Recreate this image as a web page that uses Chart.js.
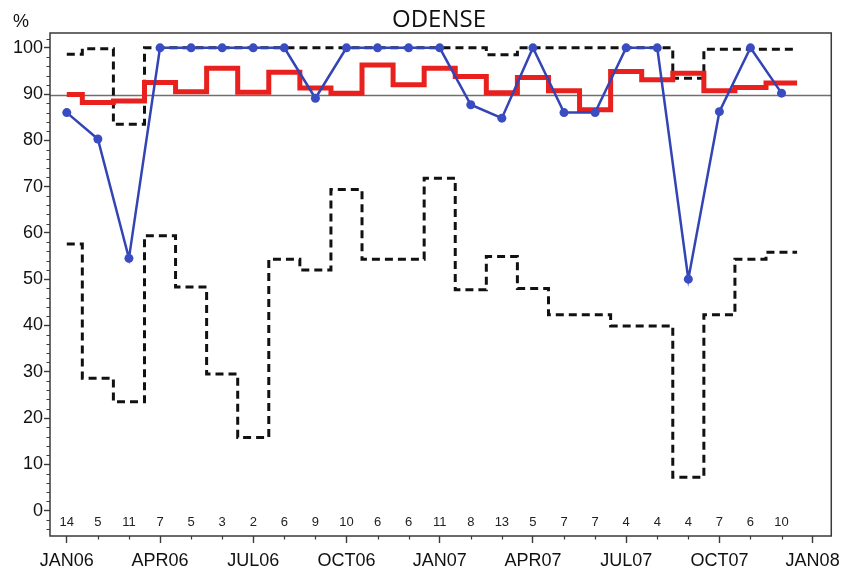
<!DOCTYPE html>
<html>
<head>
<meta charset="utf-8">
<script src="https://cdn.jsdelivr.net/npm/chart.js@4/dist/chart.umd.min.js"></script>
<style>
  html, body { margin: 0; padding: 0; background: #fff; }
</style>
</head>
<body>
<canvas id="chart" width="847" height="573"></canvas>
<script>
// one value per month, JAN06 .. DEC07
let tickLabels = ['JAN06', 'APR06', 'JUL06', 'OCT06', 'JAN07', 'APR07', 'JUL07', 'OCT07', 'JAN08'];
let counts = [14, 5, 11, 7, 5, 3, 2, 6, 9, 10, 6, 6, 11, 8, 13, 5, 7, 7, 4, 4, 4, 7, 6, 10];
let observed = [86.0, 80.3, 54.5, 100, 100, 100, 100, 100, 89.1, 100, 100, 100,
                100, 87.7, 84.8, 100, 86.0, 86.0, 100, 100, 50.0, 86.2, 100, 90.2];
let expected = [89.9, 88.2, 88.5, 92.5, 90.5, 95.6, 90.4, 94.7, 91.3, 90.2, 96.3, 92.0,
                95.6, 93.8, 90.3, 93.6, 90.7, 86.6, 94.9, 93.1, 94.5, 90.7, 91.4, 92.4];
let upperLimit = [98.6, 99.8, 83.5, 100, 100, 100, 100, 100, 100, 100, 100, 100,
                  100, 100, 98.5, 100, 100, 100, 100, 100, 93.4, 99.7, 99.7, 99.7];
let lowerLimit = [57.6, 28.6, 23.5, 59.4, 48.3, 29.5, 15.8, 54.3, 52.0, 69.4, 54.3, 54.3,
                  71.8, 47.7, 54.9, 48.0, 42.3, 42.3, 39.9, 39.9, 7.2, 42.3, 54.3, 55.8];
let refLevel = 89.7;

let fontFam = '"Liberation Sans", Arial, sans-serif';

// step lines: level i runs from month i-0.5 to i+0.5 (first one starts at month 0)
function stepData(values) {
    let pts = values.map(function (v, i) {
        return { x: i === 0 ? 0 : i - 0.5, y: v };
    });
    pts.push({ x: values.length - 0.5, y: values[values.length - 1] });
    return pts;
}

let extras = {
    id: 'extras',
    beforeDatasetsDraw: function (chart) {
        let ctx = chart.ctx, a = chart.chartArea;
        let y = chart.scales.y.getPixelForValue(refLevel);
        ctx.save();
        ctx.strokeStyle = '#6f6f6f';
        ctx.lineWidth = 1.6;
        ctx.beginPath();
        ctx.moveTo(a.left, y);
        ctx.lineTo(a.right, y);
        ctx.stroke();
        ctx.restore();
    },
    afterDraw: function (chart) {
        let ctx = chart.ctx, a = chart.chartArea;
        let xs = chart.scales.x, ys = chart.scales.y;
        ctx.save();
        // frame
        ctx.strokeStyle = '#3a3a3a';
        ctx.lineWidth = 1.5;
        ctx.strokeRect(a.left, a.top, a.right - a.left, a.bottom - a.top);

        // minor ticks
        ctx.lineWidth = 1.2;
        ctx.beginPath();
        for (let v = -4; v <= 102; v += 2) {
            if (v % 10 === 0) continue;
            let py = Math.round(ys.getPixelForValue(v)) + 0.5;
            ctx.moveTo(a.left - 3.5, py);
            ctx.lineTo(a.left, py);
        }
        for (let m = 0; m <= 24; m++) {
            if (m % 3 === 0) continue;
            let px = Math.round(xs.getPixelForValue(m)) + 0.5;
            ctx.moveTo(px, a.bottom);
            ctx.lineTo(px, a.bottom + 3.5);
        }
        ctx.stroke();

        // number of cases per month
        ctx.fillStyle = '#222';
        ctx.font = '13px ' + fontFam;
        ctx.textAlign = 'center';
        ctx.textBaseline = 'middle';
        counts.forEach(function (c, i) {
            ctx.fillText(String(c), xs.getPixelForValue(i), ys.getPixelForValue(-2.6));
        });

        // title and unit
        ctx.fillStyle = '#111';
        ctx.textBaseline = 'alphabetic';
        ctx.font = '24px "Open Sans", "Noto Sans", sans-serif';
        ctx.fillText('ODENSE', 439, 27);
        ctx.font = '18px ' + fontFam;
        ctx.fillText('%', 21, 27);
        ctx.restore();
    }
};

let ctx = document.getElementById('chart').getContext('2d');
let odenseChart = new Chart(ctx, {
    type: 'line',
    data: {
        datasets: [{
            label: 'observed',
            data: observed.map(function (v, i) { return { x: i, y: v }; }),
            borderColor: '#3344b4',
            backgroundColor: '#3a4cc2',
            borderWidth: 2.5,
            pointRadius: 4.5,
            pointBorderWidth: 0,
            tension: 0,
            order: 1
        }, {
            label: 'expected',
            data: stepData(expected),
            stepped: 'before',
            borderColor: '#e8201e',
            borderWidth: 5,
            pointRadius: 0,
            order: 2
        }, {
            label: 'upper',
            data: stepData(upperLimit),
            stepped: 'before',
            borderColor: '#111',
            borderWidth: 3,
            borderDash: [8, 5],
            pointRadius: 0,
            order: 3
        }, {
            label: 'lower',
            data: stepData(lowerLimit),
            stepped: 'before',
            borderColor: '#111',
            borderWidth: 3,
            borderDash: [8, 5],
            pointRadius: 0,
            order: 4
        }]
    },
    options: {
        responsive: false,
        animation: false,
        layout: { padding: { top: 33, right: 15, left: 0, bottom: 0 } },
        plugins: { legend: { display: false }, tooltip: { enabled: false } },
        scales: {
            x: {
                type: 'linear',
                min: -0.54,
                max: 24.6,
                afterBuildTicks: function (s) {
                    s.ticks = [];
                    for (let m = 0; m <= 24; m += 3) s.ticks.push({ value: m });
                },
                afterFit: function (s) { s.height = 37; },
                ticks: {
                    autoSkip: false,
                    maxRotation: 0,
                    padding: 7,
                    color: '#111',
                    font: { family: fontFam, size: 18 },
                    callback: function (v) { return tickLabels[v / 3]; }
                },
                grid: { drawOnChartArea: false, tickLength: 7, tickWidth: 1.4, tickColor: '#3a3a3a' },
                border: { display: false }
            },
            y: {
                min: -5.5,
                max: 103.2,
                afterBuildTicks: function (s) {
                    s.ticks = [];
                    for (let v = 0; v <= 100; v += 10) s.ticks.push({ value: v });
                },
                afterFit: function (s) { s.width = 50; },
                ticks: {
                    padding: 1,
                    color: '#111',
                    font: { family: fontFam, size: 18 }
                },
                grid: { drawOnChartArea: false, tickLength: 6, tickWidth: 1.4, tickColor: '#3a3a3a' },
                border: { display: false }
            }
        }
    },
    plugins: [extras]
});
</script>
</body>
</html>
